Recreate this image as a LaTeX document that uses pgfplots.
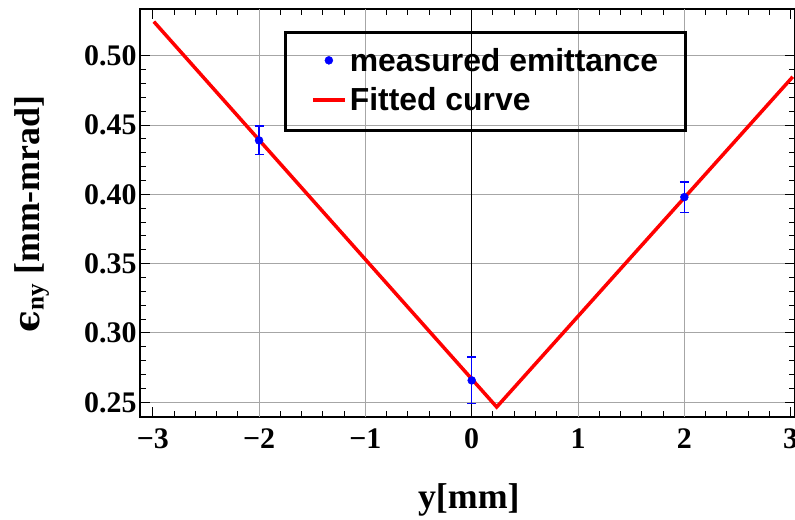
\documentclass[border=0pt]{standalone}
\usepackage{pgfplots}
\pgfplotsset{compat=1.18}
\usepackage{fontspec}
\setmainfont{Liberation Serif}
\newfontfamily\legfont{Liberation Sans}
\newfontfamily\dvs{DejaVu Serif}
\begin{document}
\begin{tikzpicture}
\useasboundingbox (-140bp,-103bp) rectangle (655bp,417bp);
\begin{axis}[
  at={(0,0)}, anchor=south west,
  scale only axis, width=655bp, height=408bp,
  xmin=-3.12, xmax=3.041, ymin=0.2394, ymax=0.5337,
  xtick={-3,-2,-1,0,1,2,3},
  xticklabels={−3,−2,−1,0,1,2,3},
  ytick={0.25,0.30,0.35,0.40,0.45,0.50},
  yticklabels={0.25,0.30,0.35,0.40,0.45,0.50},
  minor x tick num=4, minor y tick num=4,
  tick align=inside,
  major tick length=10bp, minor tick length=6bp,
  tick style={black, line width=1bp},
  axis line style={black, line width=1.5bp},
  ymajorgrids=true,
  extra x ticks={-2,-1,1,2},
  extra x tick labels={},
  extra x tick style={xmajorgrids=true, major tick length=0bp},
  grid style={gray!70, line width=1bp},
  ticklabel style={font=\bfseries\fontsize{30}{30}\selectfont},
  xticklabel style={yshift=-8bp},
  xlabel={\bfseries y[mm]},
  ylabel={{\dvs\bfseries ϵ}\textsubscript{\bfseries ny}\ \bfseries[mm-mrad]},
  label style={font=\bfseries\fontsize{36}{36}\selectfont},
  xlabel style={at={(rel axis cs:0.502,-0.203)}, anchor=center},
  ylabel style={at={(rel axis cs:-0.165,0.4975)}, anchor=center},
  legend style={at={(rel axis cs:0.256,0.917)}, anchor=north west,
    draw=none, fill=none, row sep=9bp,
    font=\legfont\bfseries\fontsize{32}{32}\selectfont,
    nodes={inner sep=3bp}},
  legend cell align=left,
  clip=false,
]
\addplot[black, line width=1.2bp, forget plot] coordinates {(0,0.2394) (0,0.5337)};
\addplot[color=blue, only marks, mark=*, mark size=4bp,
  legend image code/.code={\fill[blue] (16bp,0) circle (4bp);},
  error bars/.cd, y dir=both, y explicit,
  error bar style={draw=blue, line width=1.5bp},
  error mark options={rotate=90, mark size=4.5bp, line width=1.5bp, draw=blue}]
  coordinates {(-2,0.4389) +- (0,0.0103) (0,0.2658) +- (0,0.0168) (2,0.398) +- (0,0.011)};
\addlegendentry{measured emittance}
\addplot[red, line width=3.5bp,
  legend image code/.code={\draw[red, line width=4bp] (0bp,0) -- (32bp,0);}]
  coordinates {(-2.99,0.5246) (0.235,0.2466) (3.02,0.4848)};
\addlegendentry{Fitted curve}
\draw[black, line width=3bp] (rel axis cs:0.2214,0.942) rectangle (rel axis cs:0.8321,0.7034);
\end{axis}
\end{tikzpicture}
\end{document}
